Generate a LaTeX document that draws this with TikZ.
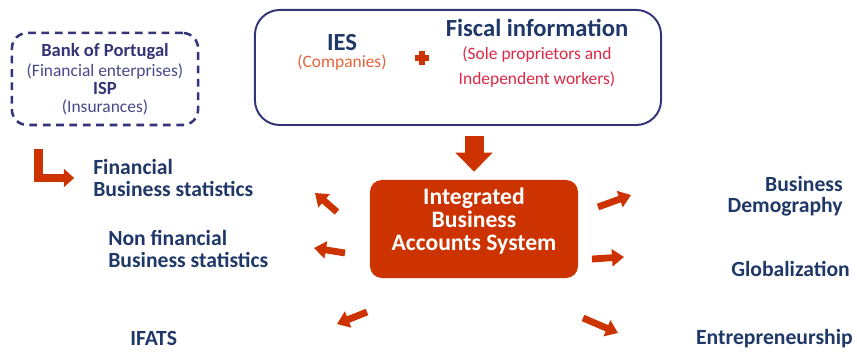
\documentclass[tikz,border=0pt]{standalone}
\usepackage{fontspec}
\setmainfont{Carlito}
\usetikzlibrary{arrows.meta}
\definecolor{navy}{RGB}{31,56,104}
\definecolor{boxline}{RGB}{52,52,120}
\definecolor{softnavy}{RGB}{72,72,140}
\definecolor{accent}{RGB}{204,51,0}
\definecolor{firmorange}{RGB}{228,100,58}
\definecolor{fiscalred}{RGB}{220,40,70}

\tikzset{
  outtext/.style={font=\fontsize{15.4}{15}\selectfont\bfseries, text=navy, inner sep=0pt},
  headtext/.style={font=\fontsize{17.5}{18}\selectfont\bfseries, text=navy, inner sep=0pt},
  subtext/.style={font=\fontsize{12.4}{13}\selectfont, inner sep=0pt},
  banktext/.style={font=\fontsize{13.2}{14}\selectfont\bfseries, text=boxline, inner sep=0pt},
  outarrow/.style={draw=accent, line width=0.17cm, -{Triangle[length=0.3cm,width=0.42cm]}},
}

\begin{document}
\begin{tikzpicture}[x=0.025cm,y=-0.025cm]
  \useasboundingbox (0,0) rectangle (857,352);

  % Sources: Bank of Portugal / ISP (dashed box)
  \node[draw=boxline, dashed, line width=1.8pt, dash pattern=on 5.5pt off 4pt,
        rounded corners=0.38cm, minimum width=4.65cm, minimum height=2.3cm] (bop) at (105,79) {};
  \node[banktext] (bopname) at (105,52) {Bank of Portugal};
  \node[subtext, text=softnavy] (bopsub) at (105,72) {(Financial enterprises)};
  \node[banktext] (ispname) at (105,88) {ISP};
  \node[subtext, text=softnavy] (ispsub) at (105,107) {(Insurances)};

  % Sources: IES + fiscal information
  \node[draw=boxline, line width=1.4pt, rounded corners=0.62cm,
        minimum width=10.15cm, minimum height=2.875cm] (feed) at (458,67.5) {};
  \node[headtext] (ies) at (342,43) {IES};
  \node[subtext, text=firmorange] (iessub) at (342,63) {(Companies)};
  \node[headtext] (fiscal) at (537,28) {Fiscal information};
  \node[subtext, text=fiscalred] (fiscal1) at (537,55) {(Sole proprietors and};
  \node[subtext, text=fiscalred] (fiscal2) at (537,80) {Independent workers)};
  % plus sign
  \draw[accent, line width=0.13cm] (415,58) -- (429,58) (422,51) -- (422,65);

  % Central system
  \node[fill=accent, rounded corners=0.3cm, minimum width=5.2cm, minimum height=2.45cm] (sys) at (474,229) {};
  \node[font=\fontsize{16.8}{16.5}\selectfont\bfseries, text=white, align=center, inner sep=0pt] (systxt) at (474,221)
    {Integrated\\Business\\Accounts System};

  % Feed arrow into the system
  \draw[draw=accent, line width=0.475cm, -{Triangle[length=0.475cm,width=0.9cm]},
        shorten <=0.25cm, shorten >=0.2cm, xshift=-0.15cm] (sys.north |- feed.south) -- (sys.north);

  % Outputs on the left
  \node[outtext, anchor=west, align=left] (finstat) at (93,178) {Financial\\Business statistics};
  \node[outtext, anchor=west, align=left] (nonfin) at (108,249) {Non financial\\Business statistics};
  \node[outtext, anchor=west] (ifats) at (130,338) {IFATS};

  % Outputs on the right
  \node[outtext, anchor=east, align=right] (demog) at (843,196) {Business\\Demography};
  \node[outtext, anchor=east] (glob) at (850,269) {Globalization};
  \node[outtext, anchor=east] (entre) at (853,339) {Entrepreneurship};

  % Bank of Portugal goes straight to financial statistics
  \draw[draw=accent, line width=0.22cm, -{Triangle[length=0.26cm,width=0.45cm]}, shorten >=0.47cm]
    ([shift={(0.7cm,-0.58cm)}]bop.south west) |- (finstat.west);

  % short output arrows round the system
  \coordinate (ul0) at (337,212); \coordinate (ul1) at (315,193);
  \coordinate (ml0) at (345,253); \coordinate (ml1) at (314,248);
  \coordinate (ll0) at (367,312); \coordinate (ll1) at (337,324);
  \coordinate (ur0) at (598,207); \coordinate (ur1) at (631,195);
  \coordinate (mr0) at (592,259); \coordinate (mr1) at (624,257);
  \coordinate (lr0) at (583,318); \coordinate (lr1) at (618,333);
  \draw[outarrow] (ul0) -- (ul1);
  \draw[outarrow] (ml0) -- (ml1);
  \draw[outarrow] (ll0) -- (ll1);
  \draw[outarrow] (ur0) -- (ur1);
  \draw[outarrow] (mr0) -- (mr1);
  \draw[outarrow] (lr0) -- (lr1);

\end{tikzpicture}
\end{document}
